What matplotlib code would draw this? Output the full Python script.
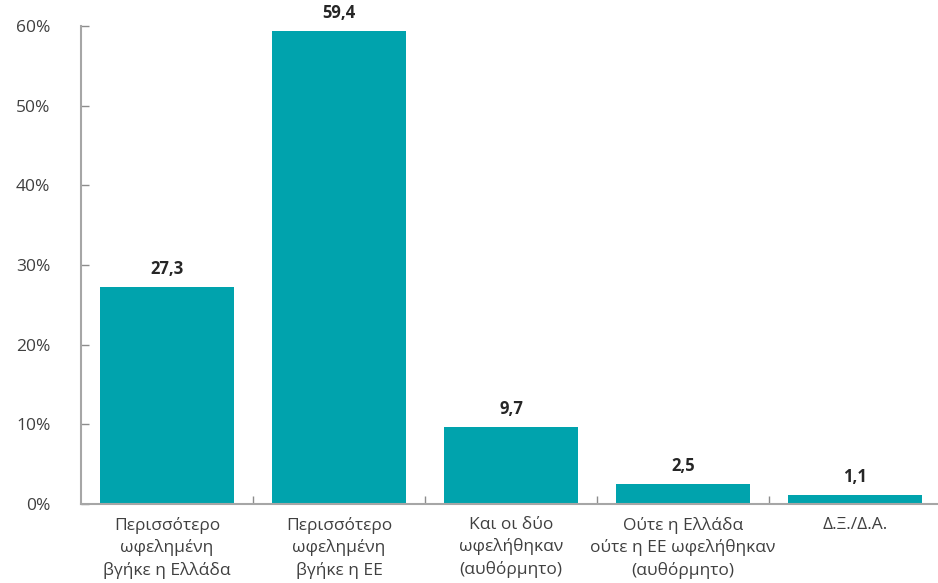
import matplotlib
matplotlib.use("Agg")
import matplotlib.pyplot as plt
import numpy as np

categories = [
    "Περισσότερο\nωφελημένη\nβγήκε η Ελλάδα",
    "Περισσότερο\nωφελημένη\nβγήκε η ΕΕ",
    "Και οι δύο\nωφελήθηκαν\n(αυθόρμητο)",
    "Ούτε η Ελλάδα\nούτε η ΕΕ ωφελήθηκαν\n(αυθόρμητο)",
    "Δ.Ξ./Δ.Α.",
]
values = [27.3, 59.4, 9.7, 2.5, 1.1]
value_labels = ["27,3", "59,4", "9,7", "2,5", "1,1"]
yticks = [0, 10, 20, 30, 40, 50, 60]

plt.rcParams['font.family'] = ['Open Sans', 'DejaVu Sans']

fig = plt.figure(figsize=(9.38, 5.83), dpi=100)
ax = fig.add_axes([0.0864, 0.1355, 0.917, 0.8199])

x = np.arange(len(categories))
ax.bar(x, values, width=0.78, color='#00A3AD', zorder=2)

for xi, v, lab in zip(x, values, value_labels):
    ax.text(xi, v + 1.1, lab, ha='center', va='bottom', fontsize=12,
            fontweight='bold', color='#262626')

ax.set_xlim(-0.5, len(categories) - 0.5)
ax.set_ylim(0, 60)
ax.set_yticks(yticks)
ax.set_yticklabels([f"{t}%" for t in yticks], fontsize=12.5, color='#404040')

# category ticks sit between the bars
ax.set_xticks(x[:-1] + 0.5)
ax.set_xticklabels([])
ax.set_xticks(x, minor=True)
ax.set_xticklabels(categories, minor=True, fontsize=12.5, color='#404040',
                   linespacing=1.45)
ax.tick_params(axis='x', which='minor', length=0, pad=9)
ax.tick_params(axis='x', which='major', direction='in', length=6,
               color='#8c8c8c', width=1)
ax.tick_params(axis='y', direction='in', length=6, color='#8c8c8c',
               width=1, pad=22)
for lab in ax.get_yticklabels():
    lab.set_horizontalalignment('right')

for s in ['top', 'right']:
    ax.spines[s].set_visible(False)
for s in ['left', 'bottom']:
    ax.spines[s].set_color('#a6a6a6')
    ax.spines[s].set_linewidth(1.5)

fig.savefig("out.png", dpi=100)
